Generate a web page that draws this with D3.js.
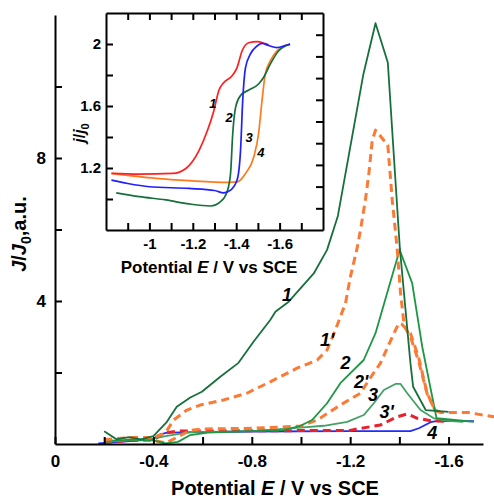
<!DOCTYPE html>
<html>
<head>
<meta charset="utf-8">
<script src="https://cdn.jsdelivr.net/npm/d3@7"></script>
<style>
  body { margin: 0; background: #fff; }
  svg { font-family: "Liberation Sans", Arial, sans-serif; font-weight: bold; }
</style>
</head>
<body>
<div id="chart"></div>
<script>

// main plot: [E (V vs SCE), J/J0]
var curve1 = [[-0.2,0.36],[-0.25,0.13],[-0.3,0.19],[-0.35,0.13],[-0.4,0.22],[-0.455,0.62],[-0.495,1.04],[-0.55,1.30],[-0.597,1.46],[-0.672,1.88],[-0.746,2.27],[-0.807,2.86],[-0.875,3.47],[-0.896,3.70],[-0.95,3.98],[-1.052,4.77],[-1.106,5.43],[-1.15,6.38],[-1.253,10.32],[-1.303,11.77],[-1.353,10.67],[-1.402,5.47],[-1.445,2.26],[-1.456,1.60],[-1.507,0.95],[-1.60,0.90]];
var curve1p = [[-0.2,0.12],[-0.3,0.18],[-0.4,0.18],[-0.448,0.30],[-0.482,0.67],[-0.536,0.95],[-0.59,1.09],[-0.685,1.23],[-0.78,1.42],[-0.875,1.74],[-0.984,2.12],[-1.066,2.35],[-1.106,2.63],[-1.14,3.19],[-1.181,3.94],[-1.201,4.68],[-1.228,5.47],[-1.242,5.99],[-1.262,6.83],[-1.276,7.57],[-1.29,8.5],[-1.303,8.78],[-1.353,8.36],[-1.371,6.83],[-1.391,5.47],[-1.405,4.2],[-1.42,3.3],[-1.445,3.0],[-1.479,2.3],[-1.513,1.4],[-1.545,0.95],[-1.568,0.88],[-1.68,0.88],[-1.785,0.76]];
var curve2 = [[-0.2,0.08],[-0.3,0.12],[-0.4,0.1],[-0.45,0.02],[-0.5,0.06],[-0.55,0.25],[-0.62,0.32],[-0.8,0.36],[-0.93,0.39],[-0.998,0.51],[-1.045,0.67],[-1.106,1.14],[-1.16,1.70],[-1.255,2.35],[-1.303,3.10],[-1.401,5.43],[-1.452,4.50],[-1.493,2.72],[-1.551,0.72],[-1.656,0.65],[-1.703,0.62]];
var curve2p = [[-0.2,0.1],[-0.3,0.15],[-0.4,0.1],[-0.45,0.03],[-0.5,0.2],[-0.55,0.38],[-0.6,0.42],[-0.8,0.44],[-0.998,0.5],[-1.066,0.67],[-1.16,1.09],[-1.242,1.42],[-1.276,1.79],[-1.323,2.26],[-1.378,3.1],[-1.398,3.38],[-1.41,3.35],[-1.445,3.1],[-1.479,2.4],[-1.513,1.42],[-1.545,0.95],[-1.568,0.88]];
var curve3 = [[-0.2,0.05],[-0.3,0.1],[-0.4,0.15],[-0.45,0.22],[-0.55,0.33],[-0.8,0.36],[-0.998,0.46],[-1.093,0.51],[-1.188,0.62],[-1.255,0.81],[-1.296,1.14],[-1.337,1.51],[-1.384,1.68],[-1.405,1.68],[-1.432,1.42],[-1.486,0.95],[-1.54,0.72],[-1.595,0.65],[-1.66,0.62]];
var curve3p = [[-0.2,0.04],[-0.3,0.1],[-0.4,0.11],[-0.44,0.3],[-0.5,0.36],[-0.8,0.37],[-1.2,0.38],[-1.228,0.42],[-1.323,0.53],[-1.391,0.76],[-1.432,0.84],[-1.473,0.72],[-1.527,0.65],[-1.6,0.63]];
var curve4 = [[-0.176,0.02],[-0.4,0.13],[-0.42,0.25],[-0.455,0.32],[-0.8,0.35],[-1.2,0.36],[-1.445,0.36],[-1.479,0.44],[-1.527,0.61],[-1.55,0.64],[-1.703,0.64]];

// inset: [E, j/j0]
var inset1 = [[-0.825,1.165],[-0.95,1.16],[-1.107,1.165],[-1.168,1.197],[-1.229,1.314],[-1.267,1.44],[-1.297,1.57],[-1.32,1.70],[-1.343,1.752],[-1.381,1.795],[-1.404,1.848],[-1.427,1.955],[-1.458,2.008],[-1.496,2.015],[-1.534,2.002],[-1.55,1.995]];
var inset2 = [[-0.847,1.04],[-0.954,1.015],[-1.076,0.994],[-1.183,0.968],[-1.282,0.955],[-1.328,0.983],[-1.358,1.047],[-1.374,1.165],[-1.384,1.421],[-1.397,1.59],[-1.42,1.667],[-1.458,1.703],[-1.503,1.742],[-1.526,1.784],[-1.557,1.87],[-1.595,1.955],[-1.626,1.987],[-1.648,1.998]];
var inset3 = [[-0.825,1.122],[-0.9,1.1],[-1.0,1.079],[-1.183,1.068],[-1.3,1.055],[-1.343,1.04],[-1.374,1.057],[-1.404,1.122],[-1.42,1.314],[-1.43,1.635],[-1.443,1.848],[-1.465,1.934],[-1.496,1.987],[-1.519,2.004],[-1.549,1.99],[-1.587,1.976],[-1.626,1.99],[-1.648,2.0]];
var inset4 = [[-0.825,1.165],[-1.03,1.133],[-1.183,1.118],[-1.366,1.107],[-1.404,1.11],[-1.443,1.165],[-1.481,1.271],[-1.503,1.421],[-1.519,1.635],[-1.534,1.806],[-1.557,1.891],[-1.587,1.955],[-1.626,1.99],[-1.648,1.998]];

// ticks and labels
var mainXTicks = [0, -0.2, -0.4, -0.6, -0.8, -1.0, -1.2, -1.4, -1.6];
var mainXLabels = [0, -0.4, -0.8, -1.2, -1.6];
var mainYTicks = [2, 4, 6, 8, 10];
var mainYLabels = [4, 8];
var insetXTicks = [-0.9, -1.0, -1.1, -1.2, -1.3, -1.4, -1.5, -1.6, -1.7];
var insetXLabels = [-1.0, -1.2, -1.4, -1.6];
var insetYTicks = [1.0, 1.2, 1.4, 1.6, 1.8, 2.0];
var insetYLabels = [1.2, 1.6, 2.0];
var insetRightTicks = [1, 2, 3, 4, 5, 6, 7, 8, 9];

// curve labels: [text, E, J] (baseline position)
var mainCurveLabels = [["1", -0.943, 4.0], ["1'", -1.106, 2.74], ["2", -1.181, 2.10], ["2'", -1.245, 1.56], ["3", -1.293, 1.2], ["3'", -1.348, 0.73], ["4", -1.534, 0.14]];
var insetCurveLabels = [["1", -1.293, 1.59], ["2", -1.367, 1.50], ["3", -1.459, 1.365], ["4", -1.514, 1.268]];

function fmt(d) { return String(d); }

function setup() {

    var svg = d3.select("#chart").append("svg")
        .attr("width", 494)
        .attr("height", 499);

    // ---- main plot ----
    var x = d3.scaleLinear().domain([0, -1.74]).range([55, 483]);
    var y = d3.scaleLinear().domain([0, 12]).range([444, 15]);

    var line = d3.line()
        .x(function(d) { return x(d[0]); })
        .y(function(d) { return y(d[1]); });

    var series = [
        {data: curve4,  color: "#1f2bff", width: 1.8, dash: null},
        {data: curve3p, color: "#e8212b", width: 3,   dash: "8,5"},
        {data: curve3,  color: "#45a065", width: 1.8, dash: null},
        {data: curve2p, color: "#fb7a35", width: 3,   dash: "8,5"},
        {data: curve2,  color: "#1d9743", width: 1.8, dash: null},
        {data: curve1p, color: "#fb7a35", width: 3,   dash: "8,5"},
        {data: curve1,  color: "#17703b", width: 1.8, dash: null}
    ];

    svg.append("g").selectAll("path")
        .data(series)
        .enter().append("path")
        .attr("d", function(s) { return line(s.data); })
        .attr("fill", "none")
        .attr("stroke", function(s) { return s.color; })
        .attr("stroke-width", function(s) { return s.width; })
        .attr("stroke-dasharray", function(s) { return s.dash; })
        .attr("stroke-linejoin", "round");

    // x axis, ticks pointing in
    var gx = svg.append("g")
        .attr("transform", "translate(0," + y(0) + ")")
        .call(d3.axisBottom(x)
            .tickValues(mainXTicks)
            .tickSizeInner(-7).tickSizeOuter(0).tickPadding(11)
            .tickFormat(function(d) { return mainXLabels.indexOf(d) >= 0 ? fmt(d) : ""; }));

    var gy = svg.append("g")
        .attr("transform", "translate(" + x(0) + ",0)")
        .call(d3.axisLeft(y)
            .tickValues(mainYTicks)
            .tickSizeInner(-7).tickSizeOuter(0).tickPadding(9)
            .tickFormat(function(d) { return mainYLabels.indexOf(d) >= 0 ? fmt(d) : ""; }));

    [gx, gy].forEach(function(g) {
        g.select(".domain").attr("stroke-width", 2);
        g.selectAll(".tick line").attr("stroke-width", 2);
        g.selectAll("text").attr("font-size", 17).attr("font-family", null).attr("fill", "#000");
    });

    // axis titles
    var xt = svg.append("text")
        .attr("x", 275).attr("y", 495)
        .attr("text-anchor", "middle")
        .attr("font-size", 20);
    xt.append("tspan").text("Potential ");
    xt.append("tspan").attr("font-style", "italic").text("E");
    xt.append("tspan").text(" / V vs SCE");

    var yt = svg.append("text")
        .attr("transform", "translate(26,234) rotate(-90)")
        .attr("text-anchor", "middle")
        .attr("font-size", 20);
    yt.append("tspan").attr("font-style", "italic").text("J");
    yt.append("tspan").text("/");
    yt.append("tspan").attr("font-style", "italic").text("J");
    yt.append("tspan").attr("font-size", 14).attr("dy", 5).text("0");
    yt.append("tspan").attr("dy", -5).text(",a.u.");

    svg.append("g").selectAll("text")
        .data(mainCurveLabels)
        .enter().append("text")
        .attr("x", function(d) { return x(d[1]); })
        .attr("y", function(d) { return y(d[2]); })
        .attr("text-anchor", "middle")
        .attr("font-size", 18)
        .attr("font-style", "italic")
        .text(function(d) { return d[0]; });

    // ---- inset ----
    var ix = d3.scaleLinear().domain([-0.8, -1.8]).range([106, 323]);
    var iy = d3.scaleLinear().domain([0.8, 2.2]).range([230, 13]);
    var iyR = d3.scaleLinear().domain([0, 10]).range([230, 13]);

    var inset = svg.append("g");
    inset.append("rect")
        .attr("x", 106).attr("y", 13)
        .attr("width", 217).attr("height", 217)
        .attr("fill", "#fff");

    var iline = d3.line()
        .curve(d3.curveMonotoneX)
        .x(function(d) { return ix(d[0]); })
        .y(function(d) { return iy(d[1]); });

    var iseries = [
        {data: inset4, color: "#ff7a1c"},
        {data: inset2, color: "#17703b"},
        {data: inset1, color: "#ff1f1f"},
        {data: inset3, color: "#1f1fff"}
    ];

    inset.append("g").selectAll("path")
        .data(iseries)
        .enter().append("path")
        .attr("d", function(s) { return iline(s.data); })
        .attr("fill", "none")
        .attr("stroke", function(s) { return s.color; })
        .attr("stroke-width", 1.7);

    var ib = inset.append("g").attr("transform", "translate(0,230)")
        .call(d3.axisBottom(ix).tickValues(insetXTicks)
            .tickSizeInner(-7).tickSizeOuter(0).tickPadding(8)
            .tickFormat(function(d) { return insetXLabels.indexOf(d) >= 0 ? fmt(d) : ""; }));
    var itop = inset.append("g").attr("transform", "translate(0,13)")
        .call(d3.axisTop(ix).tickValues(insetXTicks)
            .tickSizeInner(-7).tickSizeOuter(0).tickFormat(""));
    var il = inset.append("g").attr("transform", "translate(106,0)")
        .call(d3.axisLeft(iy).tickValues(insetYTicks)
            .tickSizeInner(-7).tickSizeOuter(0).tickPadding(5)
            .tickFormat(function(d) { return insetYLabels.indexOf(d) >= 0 ? fmt(d) : ""; }));
    var ir = inset.append("g").attr("transform", "translate(323,0)")
        .call(d3.axisRight(iyR).tickValues(insetRightTicks)
            .tickSizeInner(-7).tickSizeOuter(0).tickFormat(""));

    [ib, itop, il, ir].forEach(function(g) {
        g.select(".domain").attr("stroke-width", 2);
        g.selectAll(".tick line").attr("stroke-width", 2);
        g.selectAll("text").attr("font-size", 15).attr("font-family", null).attr("fill", "#000");
    });

    var ixt = inset.append("text")
        .attr("x", 209).attr("y", 273)
        .attr("text-anchor", "middle")
        .attr("font-size", 17);
    ixt.append("tspan").text("Potential ");
    ixt.append("tspan").attr("font-style", "italic").text("E");
    ixt.append("tspan").text(" / V vs SCE");

    var iyt = inset.append("text")
        .attr("transform", "translate(85,133) rotate(-90)")
        .attr("text-anchor", "middle")
        .attr("font-size", 16);
    iyt.append("tspan").attr("font-style", "italic").text("j");
    iyt.append("tspan").text("/");
    iyt.append("tspan").attr("font-style", "italic").text("j");
    iyt.append("tspan").attr("font-size", 11).attr("dy", 4).text("0");

    inset.append("g").selectAll("text")
        .data(insetCurveLabels)
        .enter().append("text")
        .attr("x", function(d) { return ix(d[1]); })
        .attr("y", function(d) { return iy(d[2]); })
        .attr("text-anchor", "middle")
        .attr("font-size", 13)
        .attr("font-style", "italic")
        .text(function(d) { return d[0]; });
}

setup();
</script>
</body>
</html>
